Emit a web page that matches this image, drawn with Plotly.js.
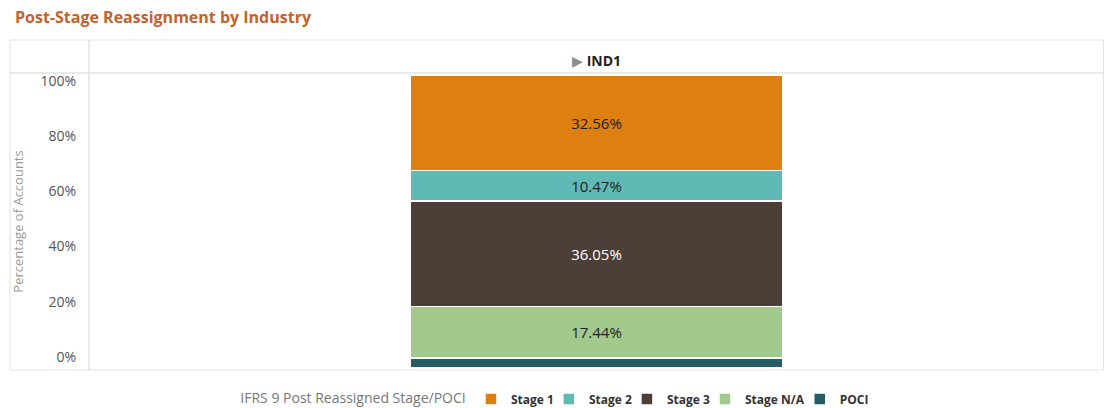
<!DOCTYPE html>
<html><head><meta charset="utf-8">
<script src="https://cdn.plot.ly/plotly-3.0.1.min.js"></script>
<style>body{margin:0;background:#fff}#chart{width:1106px;height:408px}</style>
</head><body><div id="chart"></div>
<script>
const categories = ['IND1'];
const poci = [3.48];
const stageNA = [17.44];
const stage3 = [36.05];
const stage2 = [10.47];
const stage1 = [32.56];
const yTickVals = [0, 20, 40, 60, 80, 100];
const yTickText = ['0%', '20%', '40%', '60%', '80%', '100%'];
const chartTitle = 'Post-Stage Reassignment by Industry';
const legendTitle = 'IFRS 9 Post Reassigned Stage/POCI';
const yTitle = 'Percentage of Accounts';

const FONT = 'Open Sans, sans-serif';
function barTrace(name, vals, color, textColor, showText) {
  return {
    type: 'bar', name: name, x: categories, y: vals,
    width: 0.3665,
    marker: {color: color, line: {color: '#ffffff', width: 1.5}},
    texttemplate: showText ? '%{y:.2f}%' : '',
    textposition: showText ? 'inside' : 'none',
    insidetextanchor: 'middle',
    textfont: {family: FONT, size: 15, color: textColor},
    hoverinfo: 'name+y'
  };
}
const traces = [
  barTrace('POCI', poci, '#245d66', '#ffffff', false),
  barTrace('Stage N/A', stageNA, '#a1ca8c', '#222222', true),
  barTrace('Stage 3', stage3, '#4b3f37', '#ffffff', true),
  barTrace('Stage 2', stage2, '#5fb9b4', '#222222', true),
  barTrace('Stage 1', stage1, '#de7f12', '#222222', true),
  {type: 'scatter', x: [], y: [], yaxis: 'y2', showlegend: false, hoverinfo: 'skip'}
];

const line = '#e3e3e3';
const layout = {
  width: 1106, height: 408,
  margin: {l: 89, r: 2, t: 75, b: 40, autoexpand: false},
  paper_bgcolor: '#ffffff', plot_bgcolor: '#ffffff',
  font: {family: FONT, color: '#444'},
  barmode: 'stack',
  showlegend: true,
  title: {text: '<b>' + chartTitle + '</b>', x: 0.0136, xanchor: 'left', xref: 'container', y: 0.957, yanchor: 'middle', yref: 'container',
          font: {family: FONT, size: 16, color: '#c4622c'}},
  xaxis: {type: 'category', range: [-0.5, 0.5], side: 'top', showgrid: false, zeroline: false, showline: false, ticks: '',
          tickvals: categories, ticktext: categories.map(c => '<span style="color:#8c8c8c">▶</span> <b>' + c + '</b>'),
          tickfont: {family: FONT, size: 14, color: '#222'}, ticklabelstandoff: 5, fixedrange: true},
  yaxis: {range: [0, 100], showticklabels: false, showgrid: false, zeroline: false, showline: false, ticks: '', fixedrange: true},
  yaxis2: {overlaying: 'y', side: 'left', range: [-3.99, 102.17], tickvals: yTickVals, ticktext: yTickText,
           showgrid: false, zeroline: false, showline: false, ticks: '', ticklabelstandoff: 12,
           tickfont: {family: FONT, size: 14, color: '#555'},
           title: {text: yTitle, font: {family: FONT, size: 13, color: '#9a9a9a'}, standoff: 13}, fixedrange: true},
  legend: {orientation: 'h', x: 0.503, xref: 'container', xanchor: 'center', y: 0.022, yref: 'container', yanchor: 'middle', traceorder: 'reversed',
           indentation: -10,
           font: {family: FONT, size: 12, color: '#333', weight: 'bold'},
           title: {text: legendTitle + '  ', font: {family: FONT, size: 14, color: '#777', weight: 'normal'}, side: 'left'},
           itemclick: false, itemdoubleclick: false},
  shapes: [
    {type: 'rect', xref: 'paper', yref: 'paper', x0: -0.0778, x1: 0.9995, y0: -0.0068, y1: 1.1195, line: {color: line, width: 1}, layer: 'below'},
    {type: 'line', xref: 'paper', yref: 'paper', x0: -0.0778, x1: 0.9995, y0: 1.0068, y1: 1.0068, line: {color: line, width: 1.5}},
    {type: 'line', xref: 'paper', yref: 'paper', x0: 0, x1: 0, y0: -0.0068, y1: 1.1195, line: {color: line, width: 1.5}}
  ]
};
Plotly.newPlot('chart', traces, layout, {displayModeBar: false});
</script>
</body></html>
